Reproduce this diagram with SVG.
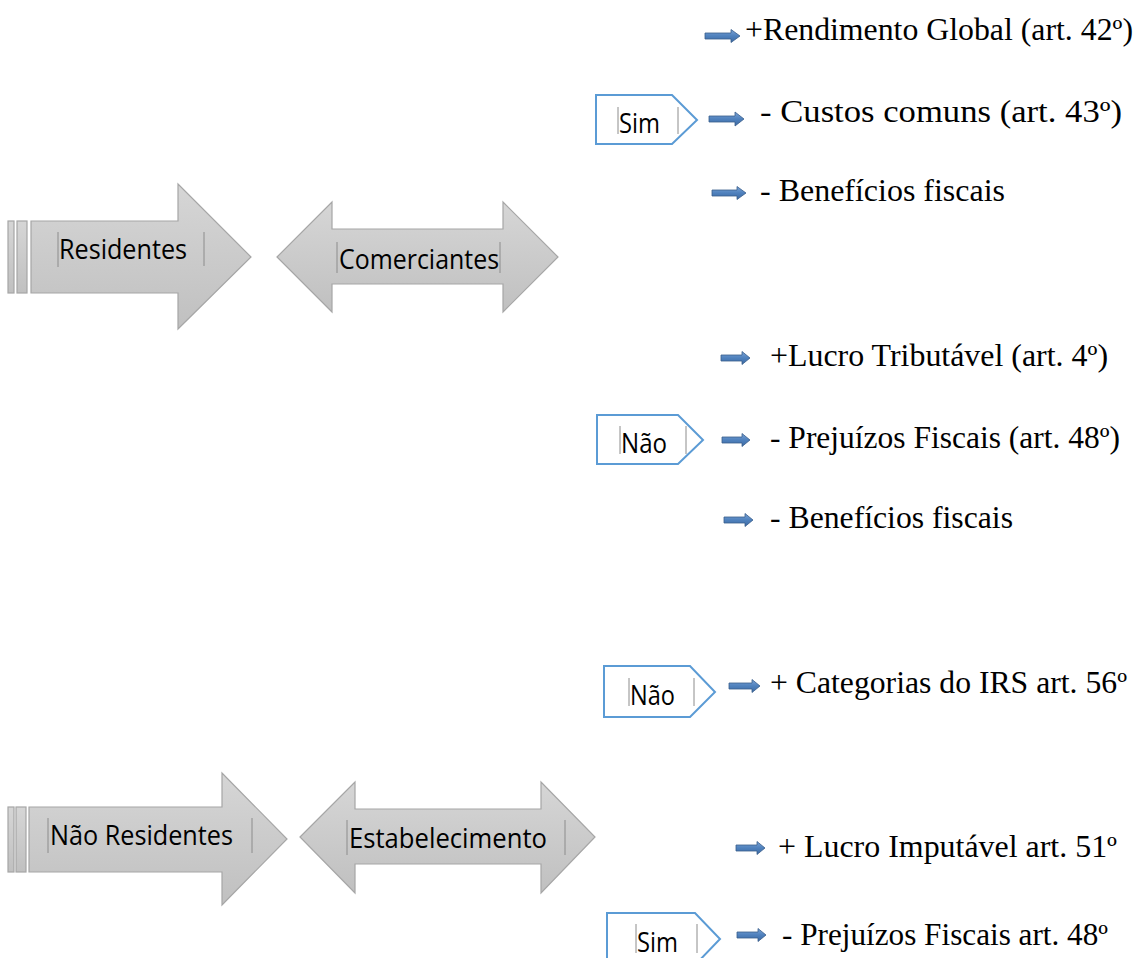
<svg xmlns="http://www.w3.org/2000/svg" width="1137" height="958" viewBox="0 0 1137 958">
<defs>
<linearGradient id="grey" x1="0" y1="0" x2="0" y2="1">
<stop offset="0" stop-color="#d6d6d6"/>
<stop offset="1" stop-color="#c0c0c0"/>
</linearGradient>
<linearGradient id="blue" x1="0" y1="0" x2="0" y2="1">
<stop offset="0" stop-color="#7aa3d6"/>
<stop offset="0.5" stop-color="#4f81bd"/>
<stop offset="1" stop-color="#3d6aa3"/>
</linearGradient>
<style>
.shape{fill:url(#grey);stroke:#a6a6a6;stroke-width:1.2}
.box{fill:#ffffff;stroke:#5b9bd5;stroke-width:2}
.br{stroke:#8c8c8c;stroke-width:1;fill:none}
.lbl{font-family:"Open Sans","Noto Sans",sans-serif;font-size:27px;fill:#000}
.txt{font-family:"Liberation Serif","Times New Roman",serif;font-size:31px;fill:#000}
.arr{fill:url(#blue);stroke:#385d8a;stroke-width:0.8}
</style>
</defs>
<rect width="1137" height="958" fill="#ffffff"/>

<g id="residentes">
<rect class="shape" x="8" y="221" width="6" height="72"/>
<rect class="shape" x="17" y="221" width="10" height="72"/>
<path class="shape" d="M31,221 H178 V184 L251,257 L178,329 V293 H31 Z"/>
<path class="br" d="M58,232 V267 M204,232 V266"/>
<text class="lbl" x="59" y="259" textLength="128" lengthAdjust="spacingAndGlyphs">Residentes</text>
</g>

<g id="comerciantes">
<path class="shape" d="M277,257 L332,202 V229 H503 V202 L558,257 L503,312 V284 H332 V312 Z"/>
<path class="br" d="M337,242 V273 M500,242 V273"/>
<text class="lbl" x="339" y="269" textLength="160" lengthAdjust="spacingAndGlyphs">Comerciantes</text>
</g>

<g id="nao-residentes">
<rect class="shape" x="8" y="807" width="6" height="65"/>
<rect class="shape" x="16" y="807" width="10" height="65"/>
<path class="shape" d="M29,807 H222 V773 L287,839 L222,905 V872 H29 Z"/>
<path class="br" d="M48,818 V853 M252,818 V853"/>
<text class="lbl" x="50" y="845" textLength="183" lengthAdjust="spacingAndGlyphs">Não Residentes</text>
</g>

<g id="estabelecimento">
<path class="shape" d="M300,837 L355,782 V809 H541 V782 L595,837 L541,893 V864 H355 V893 Z"/>
<path class="br" d="M347,820 V855 M565,820 V855"/>
<text class="lbl" x="349" y="848" textLength="198" lengthAdjust="spacingAndGlyphs">Estabelecimento</text>
</g>

<g id="sim-1">
<path class="box" d="M596,95 H672 L697,120 L672,144 H596 Z"/>
<path class="br" d="M618,107 V134 M678,107 V134"/>
<text class="lbl" x="619" y="133" textLength="41" lengthAdjust="spacingAndGlyphs">Sim</text>
</g>

<g id="nao-1">
<path class="box" d="M597,415 H678 L703,440 L678,464 H597 Z"/>
<path class="br" d="M620,426 V454 M686,426 V454"/>
<text class="lbl" x="621" y="453" textLength="46" lengthAdjust="spacingAndGlyphs">Não</text>
</g>

<g id="nao-2">
<path class="box" d="M604,666 H690 L715,692 L690,717 H604 Z"/>
<path class="br" d="M629,678 V706 M694,678 V706"/>
<text class="lbl" x="630" y="705" textLength="45" lengthAdjust="spacingAndGlyphs">Não</text>
</g>

<g id="sim-2">
<path class="box" d="M607,913 H695 L720,939 L695,965 H607 Z"/>
<path class="br" d="M636,924 V953 M697,924 V953"/>
<text class="lbl" x="637" y="952" textLength="41" lengthAdjust="spacingAndGlyphs">Sim</text>
</g>

<g id="items">
<text class="txt" x="745" y="40" textLength="388" lengthAdjust="spacingAndGlyphs">+Rendimento Global (art. 42º)</text>
<text class="txt" x="760" y="122" textLength="362" lengthAdjust="spacingAndGlyphs">- Custos comuns (art. 43º)</text>
<text class="txt" x="760" y="201" textLength="245" lengthAdjust="spacingAndGlyphs">- Benefícios fiscais</text>
<text class="txt" x="770" y="366" textLength="338" lengthAdjust="spacingAndGlyphs">+Lucro Tributável (art. 4º)</text>
<text class="txt" x="770" y="448" textLength="350" lengthAdjust="spacingAndGlyphs">- Prejuízos Fiscais (art. 48º)</text>
<text class="txt" x="770" y="528" textLength="243" lengthAdjust="spacingAndGlyphs">- Benefícios fiscais</text>
<text class="txt" x="770" y="693" textLength="357" lengthAdjust="spacingAndGlyphs">+ Categorias do IRS art. 56º</text>
<text class="txt" x="778" y="857" textLength="339" lengthAdjust="spacingAndGlyphs">+ Lucro Imputável art. 51º</text>
<text class="txt" x="782" y="945" textLength="326" lengthAdjust="spacingAndGlyphs">- Prejuízos Fiscais art. 48º</text>
</g>

<g id="connectors">
<path class="arr" d="M705,33 H731 V29.5 L740,36 L731,42.5 V39 H705 Z"/>
<path class="arr" d="M709,116 H735 V112 L744,119 L735,126 V122 H709 Z"/>
<path class="arr" d="M712,190 H737 V186.5 L746,193 L737,199.5 V196 H712 Z"/>
<path class="arr" d="M721,355 H742 V351.5 L750,358 L742,364.5 V361 H721 Z"/>
<path class="arr" d="M722,437 H742 V433.5 L750,440 L742,446.5 V443 H722 Z"/>
<path class="arr" d="M724,517 H745 V513.5 L753,520 L745,526.5 V523 H724 Z"/>
<path class="arr" d="M729,683 H752 V679.5 L760,686 L752,692.5 V689 H729 Z"/>
<path class="arr" d="M736,845 H757 V841.5 L765,848 L757,854.5 V851 H736 Z"/>
<path class="arr" d="M737,932 H758 V928.5 L766,935 L758,941.5 V938 H737 Z"/>
</g>
</svg>
